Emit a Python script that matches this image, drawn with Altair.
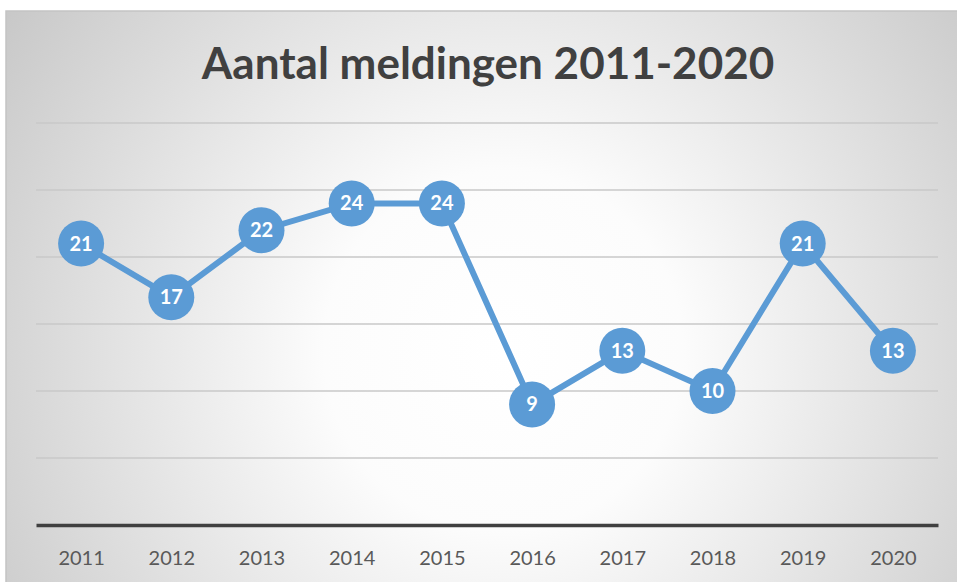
import altair as alt
import pandas as pd

years = ["2011", "2012", "2013", "2014", "2015", "2016", "2017", "2018", "2019", "2020"]
counts = [21, 17, 22, 24, 24, 9, 13, 10, 21, 13]
title_text = "Aantal meldingen 2011-2020"
grid_values = [5, 10, 15, 20, 25, 30]

df = pd.DataFrame({"jaar": years, "aantal": counts})
grid_df = pd.DataFrame({"g": grid_values})

W, H = 902, 402
BLUE = "#5b9bd5"

gradient = {
    "gradient": "radial",
    "x1": 0.52, "y1": 0.55, "r1": 0.0,
    "x2": 0.52, "y2": 0.55, "r2": 0.75,
    "stops": [
        {"offset": 0.0, "color": "#ffffff"},
        {"offset": 0.25, "color": "#fcfcfc"},
        {"offset": 1.0, "color": "#bababa"},
    ],
}

bg = alt.Chart(alt.Data(values=[{}])).mark_rect(
    fill=gradient, stroke="#c4c4c4", strokeWidth=1.5
).encode(
    x=alt.value(-30), x2=alt.value(W + 25),
    y=alt.value(-112), y2=alt.value(H + 70),
)

title = alt.Chart(alt.Data(values=[{}])).mark_text(
    text=title_text, font="Lato", fontWeight="bold", fontSize=44,
    color="#404040", align="center", baseline="alphabetic"
).encode(x=alt.value(W / 2 + 1), y=alt.value(-44))

yscale = alt.Scale(domain=[0, 30], nice=False, zero=True)

grid = alt.Chart(grid_df).mark_rule(color="#c8c8c8", strokeWidth=1.5).encode(
    y=alt.Y("g:Q", scale=yscale, axis=None),
    x=alt.value(0), x2=alt.value(W),
)

xenc = alt.X("jaar:O", sort=years,
             scale=alt.Scale(type="point", padding=0.5),
             axis=alt.Axis(title=None, labelAngle=0, labelFont="Lato", labelFontSize=20,
                           labelColor="#595959", labelPadding=23, ticks=False,
                           domainColor="#404040", domainWidth=3.5, grid=False, zindex=1))
yenc = alt.Y("aantal:Q", scale=yscale, axis=None)

base = alt.Chart(df).encode(x=xenc, y=yenc)

line = base.mark_line(color=BLUE, strokeWidth=6)
pts = base.mark_point(filled=True, shape="circle", size=2116, color=BLUE, opacity=1)
labels = base.mark_text(font="Lato", fontWeight="bold", fontSize=20, color="white",
                        baseline="middle", dy=1).encode(text="aantal:Q")

chart = alt.layer(bg, title, grid, line, pts, labels).properties(
    width=W, height=H,
    autosize=alt.AutoSizeParams(type="none"),
    padding={"left": 36, "top": 123, "right": 19, "bottom": 57},
    background="white",
).configure_view(stroke=None)

chart.save("out.html", embed_options={"renderer": "svg", "actions": False})
